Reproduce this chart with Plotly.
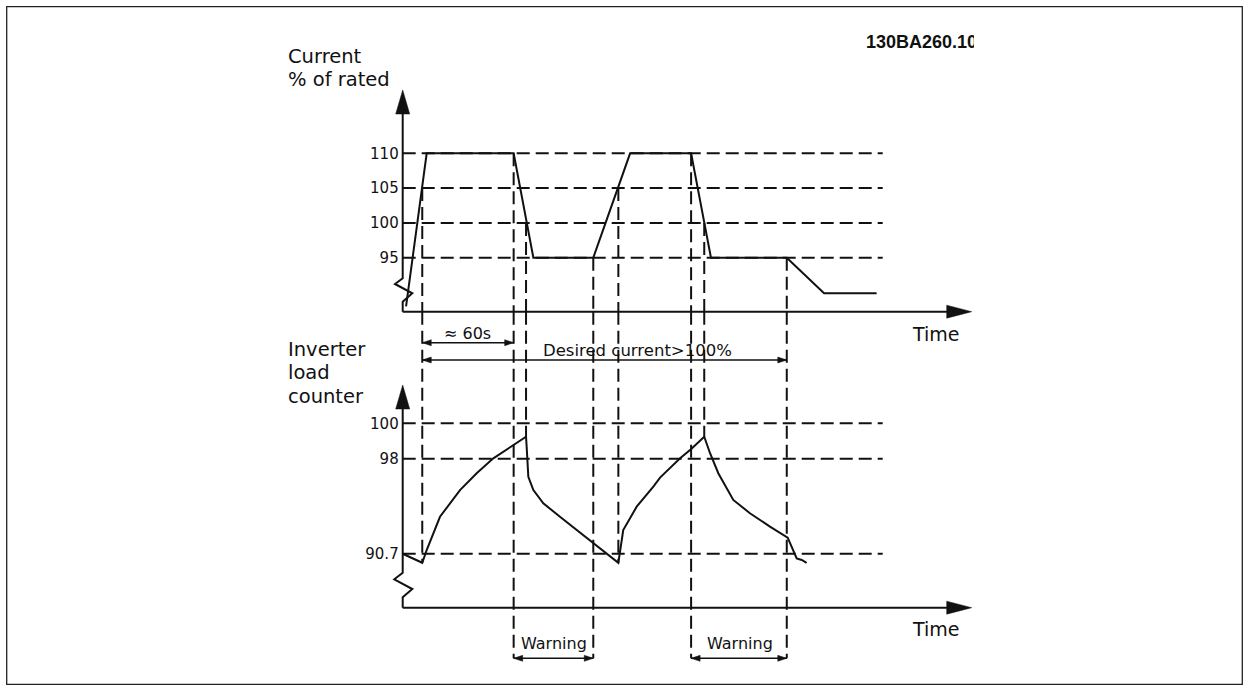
import plotly.graph_objects as go

W, H = 1249, 691

# ---------------- data ----------------
# time axis in seconds (the "≈ 60s" span sets the scale)
CURRENT_TIME = [2.2, 15.7, 72.6, 85.5, 124.7, 148.8, 188.7, 201.7, 251.3, 275.7, 310.1]
CURRENT_PCT = [88.0, 110, 110, 95, 95, 110, 110, 95, 95, 89.9, 89.9]
CURRENT_LEVELS = [95, 100, 105, 110]
CURRENT_TICK_TEXT = ["95", "100", "105", "110"]

# inverter load counter, in the chart's (broken) display scale
LOAD_TIME = [0, 12.8, 15.7, 24.4, 37.5, 48.4, 59.3, 72.4, 80.7, 81.1, 82.2, 85.5,
             92.0, 102.9, 124.7, 141.1, 144.3, 153.1, 164.0, 168.4, 181.5, 188.6,
             197.3, 201.1, 206.5, 216.3, 227.2, 240.3, 251.9, 254.5, 257.8, 261.1, 264.3]
LOAD_VALUE = [92.63, 92.12, 92.84, 94.72, 96.23, 97.18, 98.02, 98.77, 99.24, 98.68, 96.98, 96.23,
              95.48, 94.72, 93.22, 92.12, 93.97, 95.29, 96.42, 96.93, 98.02, 98.53,
              99.24, 98.31, 97.18, 95.67, 94.92, 94.16, 93.54, 93.03, 92.37, 92.28, 92.12]
LOAD_LEVELS = [92.63, 98, 100]
LOAD_TICK_TEXT = ["90.7", "98", "100"]

# event markers (dashed verticals): time, current level where they start,
# and where they end in the load panel (None -> warning bracket)
EVENT_TIME = [12.8, 72.6, 80.7, 124.7, 141.1, 188.7, 197.3, 251.3]
EVENT_CURRENT = [105, 110, 100, 95, 105, 110, 100, 95]
EVENT_LOAD_END = [92.12, None, 99.24, None, 92.12, None, 99.24, None]

SPAN_60S = (12.8, 72.6)
SPAN_DESIRED = (12.8, 251.3)
WARNING_SPANS = [(72.6, 124.7), (188.7, 251.3)]

# ---------------- layout geometry ----------------
X_ORIGIN_PX = 402.7
PX_PER_S = 91.7 / 60.0


def t_of(px):
    return (px - X_ORIGIN_PX) / PX_PER_S


def top_v(px):
    return 110 + (153.3 - px) / 6.96


def bot_v(px):
    return 100 + (423.3 - px) / 17.7


def pyp(px):
    return 1 - px / H


X_RANGE = [t_of(380), t_of(990)]
X_DOMAIN = [380 / W, 990 / W]
TOP_DOMAIN = [pyp(330), pyp(70)]
TOP_RANGE = [top_v(330), top_v(70)]
BOT_DOMAIN = [0, pyp(300)]
BOT_RANGE = [bot_v(691), bot_v(300)]

X_AXIS_TOP = top_v(311.7)
X_AXIS_BOT = bot_v(607.7)
T_TIP = t_of(971.7)
GRID_END = t_of(882.7)
WARN_V = bot_v(658.3)
BOT_SPLIT = bot_v(311.7)

INK = "#111111"
DASH = "13px,6px"
FONT = "DejaVu Sans"

fig = go.Figure()
fig.add_trace(go.Scatter(x=CURRENT_TIME, y=CURRENT_PCT, mode="lines",
                         line=dict(color=INK, width=2), xaxis="x", yaxis="y",
                         hoverinfo="skip", showlegend=False))
fig.add_trace(go.Scatter(x=LOAD_TIME, y=LOAD_VALUE, mode="lines",
                         line=dict(color=INK, width=2), xaxis="x2", yaxis="y2",
                         hoverinfo="skip", showlegend=False))

shapes = []


def line(x0, y0, x1, y1, xr, yr, dash=None, width=2):
    d = dict(type="line", x0=x0, y0=y0, x1=x1, y1=y1, xref=xr, yref=yr,
             line=dict(color=INK, width=width))
    if dash:
        d["line"]["dash"] = dash
    shapes.append(d)


def pix_path(xa, ya, path, xr, yr, fill=True, width=2):
    shapes.append(dict(type="path", xsizemode="pixel", ysizemode="pixel",
                       xanchor=xa, yanchor=ya, path=path, xref=xr, yref=yr,
                       fillcolor=INK if fill else "rgba(0,0,0,0)",
                       line=dict(color=INK, width=width if not fill else 0.5)))


# grids
for lv in CURRENT_LEVELS:
    line(0, lv, GRID_END, lv, "x", "y", DASH)
for lv in LOAD_LEVELS:
    line(0, lv, GRID_END, lv, "x2", "y2", DASH)

# event verticals
for t, c, e in zip(EVENT_TIME, EVENT_CURRENT, EVENT_LOAD_END):
    line(t, c, t, X_AXIS_TOP, "x", "y", DASH)
    line(t, BOT_SPLIT, t, WARN_V if e is None else e, "x2", "y2", DASH)

# axes (with break marks) and arrowheads
pix_path(0, X_AXIS_TOP, "M0,0 L0,10 L9.6,18.4 L-7.7,27.7 L0,33.4 L0,200", "x", "y", fill=False)
pix_path(0, top_v(90), "M-7,-24 L0,0 L7,-24 Z", "x", "y")
line(0, X_AXIS_TOP, T_TIP - 5, X_AXIS_TOP, "x", "y")
pix_path(T_TIP, X_AXIS_TOP, "M-25,-6.5 L0,0 L-25,6.5 Z", "x", "y")

pix_path(0, X_AXIS_BOT, "M0,0 L0,10.4 L9.6,18.7 L-8.4,28.4 L0,35 L0,201", "x2", "y2", fill=False)
pix_path(0, bot_v(385), "M-7,-24 L0,0 L7,-24 Z", "x2", "y2")
line(0, X_AXIS_BOT, T_TIP - 5, X_AXIS_BOT, "x2", "y2")
pix_path(T_TIP, X_AXIS_BOT, "M-25,-6.5 L0,0 L-25,6.5 Z", "x2", "y2")


def dim_arrow(t0, t1, yv):
    line(t0, yv, t1, yv, "x2", "y2", width=1.5)
    pix_path(t0, yv, "M0,0 L9,3 L9,-3 Z", "x2", "y2")
    pix_path(t1, yv, "M0,0 L-9,3 L-9,-3 Z", "x2", "y2")


dim_arrow(SPAN_60S[0], SPAN_60S[1], bot_v(342.7))
dim_arrow(SPAN_DESIRED[0], SPAN_DESIRED[1], bot_v(360))
for a, b in WARNING_SPANS:
    dim_arrow(a, b, WARN_V)

# outer frame
shapes.append(dict(type="rect", xref="paper", yref="paper", x0=6.7 / W, y0=pyp(684.3),
                   x1=1242.3 / W, y1=pyp(6.7), line=dict(color="#222222", width=1.3)))

annotations = []


def txt(s, x, y, xr, yr, size, xanchor="center", **kw):
    annotations.append(dict(text=s, x=x, y=y, xref=xr, yref=yr, showarrow=False,
                            xanchor=xanchor, yanchor="middle",
                            font=dict(family=kw.pop("family", FONT), size=size, color=INK), **kw))


def big_lines(lines):
    # larger glyphs on a line pitch close to the reference's
    return "<br>".join('<span style="font-size:19.5px">%s</span>' % s for s in lines)


txt(big_lines(["Current", "% of rated"]), 285.5 / W, pyp(67.5), "paper", "paper", 18, "left",
    align="left")
txt(big_lines(["Inverter", "load", "counter"]), 285.5 / W, pyp(373), "paper", "paper", 18, "left",
    align="left")
txt("Time", t_of(936), bot_v(334), "x2", "y2", 19)
txt("Time", t_of(936), bot_v(629), "x2", "y2", 19)
txt("≈ 60s", (SPAN_60S[0] + SPAN_60S[1]) / 2, bot_v(333), "x2", "y2", 16)
txt("Desired current>100%", t_of(637.4), bot_v(350), "x2", "y2", 16.5)
for a, b in WARNING_SPANS:
    txt("Warning", (a + b) / 2 + 0.5, bot_v(643.3), "x2", "y2", 16)
txt("<b>130BA260.10</b>", 864 / W, pyp(42.3), "paper", "paper", 18, "left",
    family="Liberation Sans", width=108, align="left")

axis_common = dict(showgrid=False, zeroline=False, showline=False, ticks="")
fig.update_layout(
    width=W, height=H, autosize=False,
    margin=dict(l=0, r=0, t=0, b=0),
    paper_bgcolor="white", plot_bgcolor="rgba(0,0,0,0)",
    showlegend=False,
    xaxis=dict(domain=X_DOMAIN, range=X_RANGE, visible=False, anchor="y"),
    yaxis=dict(domain=TOP_DOMAIN, range=TOP_RANGE, anchor="free", position=X_ORIGIN_PX / W,
               tickvals=CURRENT_LEVELS, ticktext=CURRENT_TICK_TEXT,
               tickfont=dict(family=FONT, size=15, color=INK), ticklabelstandoff=4,
               **axis_common),
    xaxis2=dict(domain=X_DOMAIN, range=X_RANGE, visible=False, anchor="y2"),
    yaxis2=dict(domain=BOT_DOMAIN, range=BOT_RANGE, anchor="free", position=X_ORIGIN_PX / W,
                tickvals=LOAD_LEVELS, ticktext=LOAD_TICK_TEXT,
                tickfont=dict(family=FONT, size=15, color=INK), ticklabelstandoff=4,
                **axis_common),
    shapes=shapes,
    annotations=annotations,
)

fig.write_html(
    "out.html",
    config={"displayModeBar": False},
    post_script="document.body.style.margin='0';document.body.style.overflow='hidden';",
)
